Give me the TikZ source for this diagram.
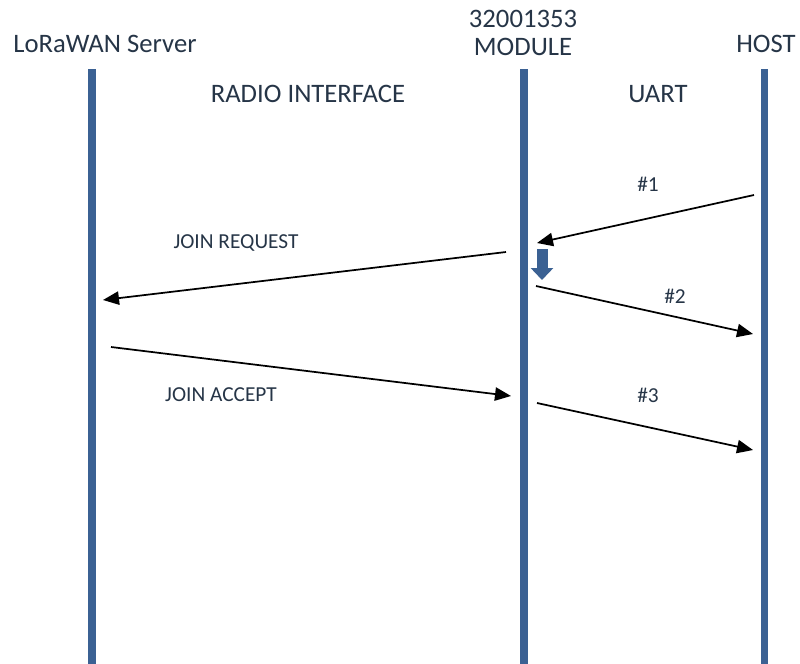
\documentclass[tikz,border=0pt]{standalone}
\usepackage{fontspec}
\setmainfont{Carlito}
\usetikzlibrary{arrows.meta,positioning}
\definecolor{lifeblue}{HTML}{3B6193}
\definecolor{txtnavy}{HTML}{263547}

\begin{document}
\begin{tikzpicture}[x=0.75pt,y=-0.75pt,
    lifeline/.style={lifeblue, line width=5.8pt},
    msg/.style={-{Triangle[length=12pt,width=10pt]}, line width=1.3pt, black},
    head/.style={text=txtnavy, font=\fontsize{20}{20.5}\selectfont, align=center, inner sep=0pt},
    lbl/.style={text=txtnavy, font=\fontsize{16}{18}\selectfont, inner sep=0pt}]
    \useasboundingbox (0,0) rectangle (800,664);

    % Lifelines
    \foreach \name/\x in {srv/92, mod/524, host/764.5} {
        \coordinate (\name top) at (\x,69);
        \coordinate (\name bot) at (\x,664);
        \draw[lifeline] (\name top) -- (\name bot);
    }

    % Names
    \node[head] (srvname) at (105,44) {LoRaWAN Server};
    \node[head] (modname) at (523,33) {32001353\\MODULE};
    \node[head] (hostname) at (766,44) {HOST};
    \node[head] (radio) at (308,94) {RADIO INTERFACE};
    \node[head] (uart) at (658,94) {UART};

    % Message end points
    \coordinate (m1a) at (754,195);  \coordinate (m1b) at (537,243);
    \coordinate (reqa) at (506,252); \coordinate (reqb) at (103,300);
    \coordinate (m2a) at (536,286);  \coordinate (m2b) at (753,334);
    \coordinate (acca) at (111,347); \coordinate (accb) at (511,396);
    \coordinate (m3a) at (537,403);  \coordinate (m3b) at (753,450);

    % Messages
    \draw[msg] (m1a) -- (m1b);
    \draw[msg] (reqa) -- (reqb);
    \draw[msg] (m2a) -- (m2b);
    \draw[msg] (acca) -- (accb);
    \draw[msg] (m3a) -- (m3b);

    % Labels
    \node[lbl] (m1) at (648,184) {\#1};
    \node[lbl] (req) at (236,243) {JOIN REQUEST};
    \node[lbl] (m2) at (675,296) {\#2};
    \node[lbl] (acc) at (221,395) {JOIN ACCEPT};
    \node[lbl] (m3) at (648,395) {\#3};

    % Processing step
    \coordinate (proca) at (542,249);
    \coordinate (procb) at (542,280);
    \draw[lifeblue, line width=8.25pt, -{Triangle[length=9pt,width=16.5pt]}] (proca) -- (procb);
\end{tikzpicture}
\end{document}
